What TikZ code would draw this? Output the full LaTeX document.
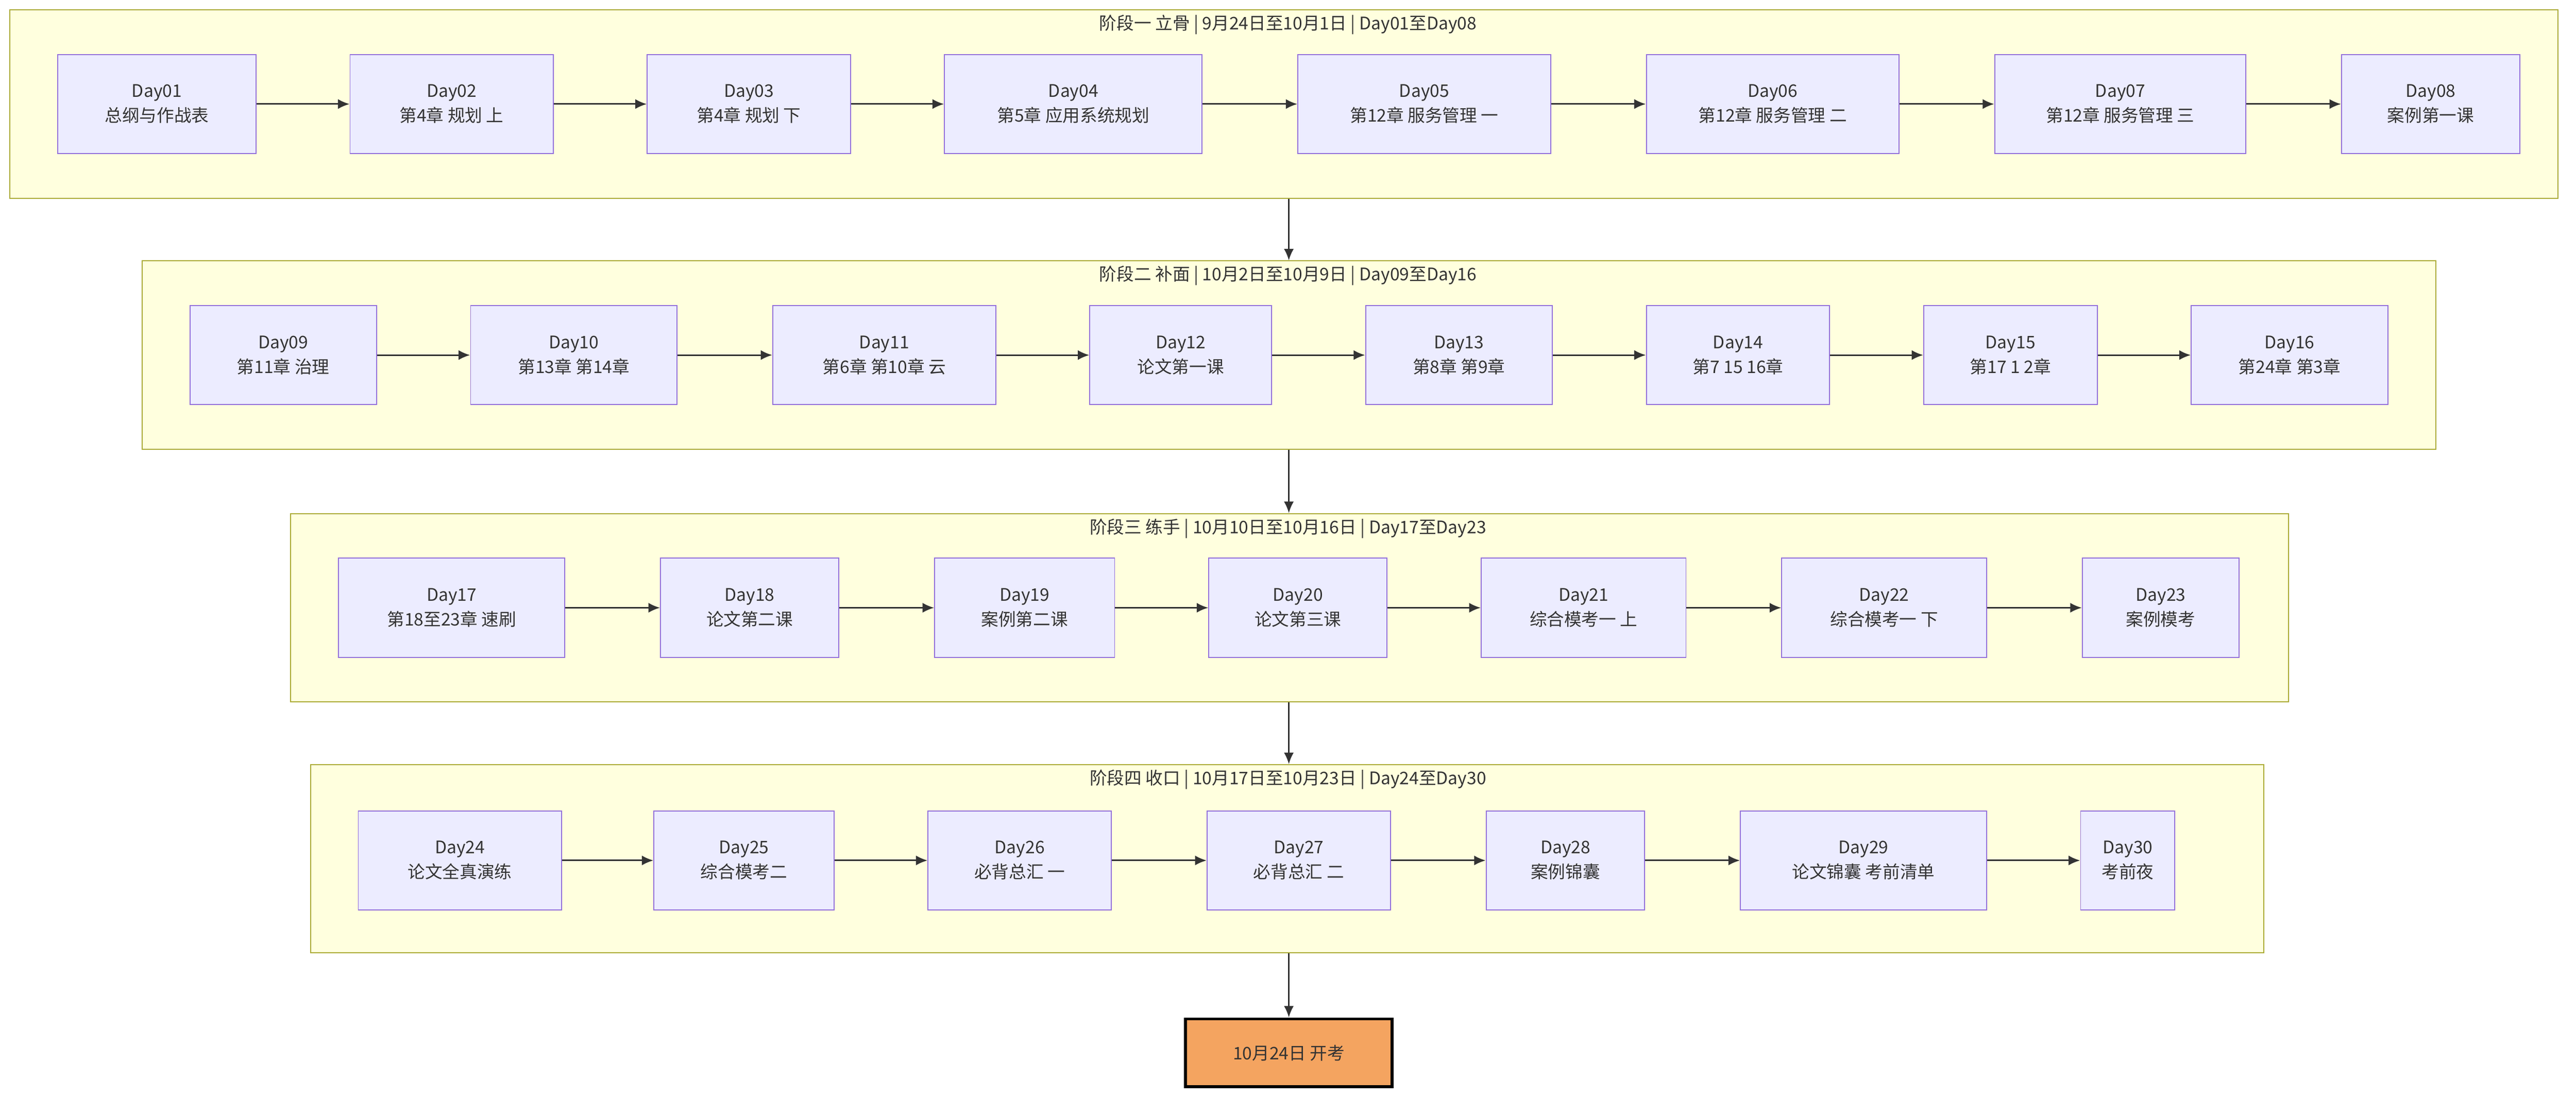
\documentclass[tikz,border=0pt]{standalone}
\usepackage{fontspec}
\setmainfont{Noto Sans CJK SC}
\usetikzlibrary{arrows.meta}
\definecolor{clf}{HTML}{FFFFDE}
\definecolor{cld}{HTML}{AAAA33}
\definecolor{ndf}{HTML}{ECECFF}
\definecolor{ndd}{HTML}{9370DB}
\definecolor{ln}{HTML}{333333}
\definecolor{fin}{HTML}{F4A460}
\begin{document}
\begin{tikzpicture}[x=1pt,y=-1pt,
  every node/.style={font=\fontsize{10.5}{15}\selectfont, text=ln},
  cl/.style={draw=cld, fill=clf, line width=0.6pt, inner sep=0, minimum height=114pt},
  ttl/.style={inner sep=0},
  nd/.style={draw=ndd, fill=ndf, line width=0.6pt, align=center, minimum height=60pt, inner sep=0},
  ar/.style={draw=ln, line width=0.9pt, -{Latex[length=7pt,width=6pt]}}]
\useasboundingbox (0,0) rectangle (1560,664);
% clusters
\node[cl, minimum width=1543pt] (s1) at (777.5,63) {};
\node[cl, minimum width=1389pt] (s2) at (780.5,215) {};
\node[cl, minimum width=1210pt] (s3) at (781,368) {};
\node[cl, minimum width=1183pt] (s4) at (779.5,520) {};
\node[ttl] (t1) at (780,15) {阶段一 立骨 | 9月24日至10月1日 | Day01至Day08};
\node[ttl] (t2) at (780,167) {阶段二 补面 | 10月2日至10月9日 | Day09至Day16};
\node[ttl] (t3) at (780,320) {阶段三 练手 | 10月10日至10月16日 | Day17至Day23};
\node[ttl] (t4) at (780,472) {阶段四 收口 | 10月17日至10月23日 | Day24至Day30};
% row 1
\node[nd, minimum width=120pt] (d01) at (95,63) {Day01\\总纲与作战表};
\node[nd, minimum width=123pt] (d02) at (273.5,63) {Day02\\第4章 规划 上};
\node[nd, minimum width=123pt] (d03) at (453.5,63) {Day03\\第4章 规划 下};
\node[nd, minimum width=156pt] (d04) at (650,63) {Day04\\第5章 应用系统规划};
\node[nd, minimum width=153pt] (d05) at (862.5,63) {Day05\\第12章 服务管理 一};
\node[nd, minimum width=153pt] (d06) at (1073.5,63) {Day06\\第12章 服务管理 二};
\node[nd, minimum width=152pt] (d07) at (1284,63) {Day07\\第12章 服务管理 三};
\node[nd, minimum width=108pt] (d08) at (1472,63) {Day08\\案例第一课};
% row 2
\node[nd, minimum width=113pt] (d09) at (171.5,215) {Day09\\第11章 治理};
\node[nd, minimum width=125pt] (d10) at (347.5,215) {Day10\\第13章 第14章};
\node[nd, minimum width=135pt] (d11) at (535.5,215) {Day11\\第6章 第10章 云};
\node[nd, minimum width=110pt] (d12) at (715,215) {Day12\\论文第一课};
\node[nd, minimum width=113pt] (d13) at (883.5,215) {Day13\\第8章 第9章};
\node[nd, minimum width=111pt] (d14) at (1052.5,215) {Day14\\第7 15 16章};
\node[nd, minimum width=105pt] (d15) at (1217.5,215) {Day15\\第17 1 2章};
\node[nd, minimum width=119pt] (d16) at (1386.5,215) {Day16\\第24章 第3章};
% row 3
\node[nd, minimum width=137pt] (d17) at (273.5,368) {Day17\\第18至23章 速刷};
\node[nd, minimum width=108pt] (d18) at (454,368) {Day18\\论文第二课};
\node[nd, minimum width=109pt] (d19) at (620.5,368) {Day19\\案例第二课};
\node[nd, minimum width=108pt] (d20) at (786,368) {Day20\\论文第三课};
\node[nd, minimum width=124pt] (d21) at (959,368) {Day21\\综合模考一 上};
\node[nd, minimum width=124pt] (d22) at (1141,368) {Day22\\综合模考一 下};
\node[nd, minimum width=95pt] (d23) at (1308.5,368) {Day23\\案例模考};
% row 4
\node[nd, minimum width=123pt] (d24) at (278.5,521) {Day24\\论文全真演练};
\node[nd, minimum width=109pt] (d25) at (450.5,521) {Day25\\综合模考二};
\node[nd, minimum width=111pt] (d26) at (617.5,521) {Day26\\必背总汇 一};
\node[nd, minimum width=111pt] (d27) at (786.5,521) {Day27\\必背总汇 二};
\node[nd, minimum width=96pt] (d28) at (948,521) {Day28\\案例锦囊};
\node[nd, minimum width=149pt] (d29) at (1128.5,521) {Day29\\论文锦囊 考前清单};
\node[nd, minimum width=57pt] (d30) at (1288.5,521) {Day30\\考前夜};
% final
\node[draw=black, fill=fin, line width=1.8pt, minimum width=125pt, minimum height=41pt, inner sep=0] (fx) at (780.5,637.5) {10月24日 开考};
% arrows
\foreach \a/\b in {d01/d02,d02/d03,d03/d04,d04/d05,d05/d06,d06/d07,d07/d08,
  d09/d10,d10/d11,d11/d12,d12/d13,d13/d14,d14/d15,d15/d16,
  d17/d18,d18/d19,d19/d20,d20/d21,d21/d22,d22/d23,
  d24/d25,d25/d26,d26/d27,d27/d28,d28/d29,d29/d30}
  \draw[ar] (\a) -- (\b);
\draw[ar] (s1.south -| fx) -- (s2.north -| fx);
\draw[ar] (s2.south -| fx) -- (s3.north -| fx);
\draw[ar] (s3.south -| fx) -- (s4.north -| fx);
\draw[ar] (s4.south -| fx) -- (fx);
\end{tikzpicture}
\end{document}
